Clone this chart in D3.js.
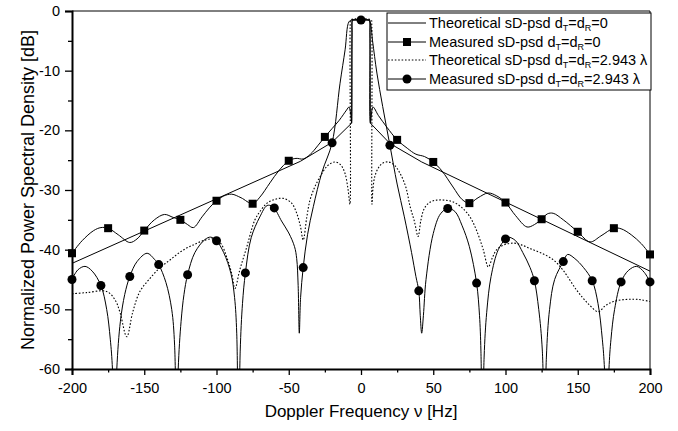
<!DOCTYPE html>
<html>
<head>
<meta charset="utf-8">
<script src="https://cdn.jsdelivr.net/npm/d3@7"></script>
<style>
  body { margin: 0; background: #fff; }
  svg { font-family: Arial, "Liberation Sans", sans-serif; }
</style>
</head>
<body>
<div id="canvas"></div>
<script>
// DATA (frequency Hz, level dB)
const theoryD0 = [
  [-200, -42.3], [-42, -25.2], [-20, -22], [-6.5, -18.8], [-6.2, -1.5],
  [6.2, -1.5], [6.5, -18.8], [20, -22.2], [42, -25.3], [200, -43.6]
];

const measuredD0 = [
  [-200, -40.6], [-193, -38.5], [-185, -36.8], [-180, -36.3], [-175, -36.4], [-168, -37.5],
  [-160, -38.8], [-155, -38.2], [-150, -36.8], [-143, -35], [-136, -34.1], [-130, -34.6],
  [-125, -35.0], [-120, -35.8], [-116, -36.3], [-110, -34.5], [-105, -33], [-100, -31.8],
  [-95, -31], [-89.5, -30.7], [-83, -31.3], [-75, -32.3], [-70, -31.2], [-63, -28.8],
  [-57, -26.8], [-50, -25.1], [-45, -24.7], [-40, -24.8], [-35, -24], [-30, -22.6],
  [-25, -21.1], [-20, -19.7], [-15, -18.3], [-10, -16.6], [-8.3, -16.1], [-7, -17.5],
  [-6.5, -18.8], [-6.2, -4], [-5.8, -1.6], [-4, -1.5], [4, -1.5], [5.8, -1.6], [6.2, -4],
  [6.5, -18.8], [8.3, -16.1], [12, -17.5], [18, -19.5], [25, -21.6], [32, -23], [38, -24],
  [44, -24.4], [50, -25.3], [56, -26.8], [63.7, -29.5], [70, -31.6], [75, -32.2], [81, -31.3],
  [88, -30.5], [94, -31], [100, -32.1], [107, -34.3], [114.9, -36.2], [120, -35.8],
  [125, -34.9], [129, -34], [133, -33.9], [140, -35], [150, -37.0], [158.5, -38.7],
  [166, -37.7], [175, -36.4], [180, -36.5], [187, -37.5], [194, -39], [200, -40.8]
];
const measuredD0Marks = [-200, -175, -150, -125, -100, -75, -50, -25, 25, 50, 75, 100, 125, 150, 175, 200];

const theoryD2943 = [
  [-200, -47.4], [-190, -47.2], [-176, -47.0], [-170, -48.5], [-166.8, -50.5], [-162.1, -54.6],
  [-158, -50.5], [-153, -47.0], [-146, -44.8], [-139, -43], [-132, -41.7], [-124, -40.2],
  [-116, -39.2], [-108, -38.4], [-102, -38.2], [-97, -39], [-93, -41.2], [-89.5, -44],
  [-87.2, -46.5], [-84, -43.5], [-79, -39.5], [-73.4, -35.0], [-69, -33.3], [-65, -32.2],
  [-60, -31.6], [-53.8, -31.4], [-48, -32.2], [-44.5, -33.9], [-42, -36], [-40, -38.4],
  [-37.5, -34.5], [-35.3, -31.7], [-32, -29.5], [-28.4, -27.8], [-23, -25.9], [-18, -25.3],
  [-14, -25.8], [-11.1, -27.2], [-9.2, -29.5], [-8.1, -31.7], [-7.6, -32.4], [-7.4, -2],
  [-7.1, -1.5], [7.1, -1.5], [7.4, -2], [7.6, -32.4], [8.2, -30], [9.5, -27.8], [12, -26.3],
  [15, -25.5], [18.9, -25.3], [23, -25.8], [27, -27.2], [31, -29.5], [34, -32.8], [37, -35.3],
  [39.5, -37.8], [41.5, -35], [44, -33], [48, -32], [52.4, -31.7], [58, -31.7], [63.9, -32],
  [70, -33], [75.4, -34.5], [80, -36.8], [84.6, -40], [88.1, -42.9], [91, -41.3], [93.9, -40],
  [99, -39.2], [105.4, -38.9], [111, -39.2], [116.9, -39.8], [125, -40.6], [133.1, -41.7],
  [140, -43.5], [149.3, -46.8], [157, -49], [164.2, -50.4], [169, -49.4], [174.6, -48.7],
  [181, -48.4], [188.4, -48.3], [194, -48.4], [200, -48.7]
];

const measuredD2943 = [
  [-200, -45.0], [-196, -43.4], [-191, -42.8], [-186, -43.6], [-180, -46.0], [-176, -50],
  [-173.5, -55], [-172, -60], [-170.5, -75], [-169, -60], [-166.5, -52], [-163.5, -47.5],
  [-160, -44.5], [-155, -42], [-148, -40.6], [-143, -41.6], [-140, -42.5], [-135, -45.5],
  [-131, -50], [-129, -56], [-127.6, -75], [-126.5, -60], [-124.5, -52], [-122.5, -47.5],
  [-120, -44.2], [-115, -40.5], [-108, -38.3], [-104, -37.9], [-100, -38.5], [-95, -40.5],
  [-90, -44], [-87.5, -48], [-86, -54], [-84.8, -75], [-83.6, -57], [-82, -49], [-80, -43.9],
  [-76, -38], [-70, -34.5], [-65, -32.6], [-61.5, -32.7], [-60, -33.0], [-55, -35.2],
  [-50, -37.2], [-46, -39.5], [-44.5, -41.5], [-43.5, -46], [-42.7, -54], [-41.8, -48],
  [-40, -43.0], [-37, -37.5], [-33, -32.8], [-27, -27], [-20, -22.1], [-14.5, -12.1],
  [-11, -6.5], [-8.3, -1.8], [-6, -1.5], [0, -1.5], [5, -1.5], [6.2, -1.8], [8, -5],
  [11, -10.4], [15, -16], [20, -22.5], [25, -29], [30, -34.5], [35, -40.5], [38, -44.5],
  [40, -46.9], [41, -51], [42, -54], [43.2, -51], [45, -45], [50, -37.3], [55, -34],
  [60, -33.1], [65, -33.6], [70, -36], [75, -39.5], [80, -45.6], [82, -51], [83, -57],
  [84, -75], [85.2, -58], [87, -50.5], [90, -44.5], [95, -40], [100, -38.2], [102, -37.9],
  [107, -38.5], [112, -40.5], [117, -43], [120, -45.2], [123, -50], [125.5, -57], [127, -75],
  [128.3, -58], [130.5, -50], [134, -45], [140, -42.0], [143, -40.8], [148, -41.5], [154, -43],
  [160, -45.2], [164, -49], [167, -55], [168.5, -60], [170, -75], [171.6, -60], [173, -55],
  [175.5, -50], [180, -45.4], [185, -43.5], [190.8, -42.8], [196, -43.8], [200, -45.4]
];
const measuredD2943Marks = [-200, -180, -160, -140, -120, -100, -80, -60, -40, -20, 0,
  20, 40, 60, 80, 100, 120, 140, 160, 180, 200];

const xTicks = [-200, -150, -100, -50, 0, 50, 100, 150, 200];
const yTicks = [0, -10, -20, -30, -40, -50, -60];

const legendNames = ["Theoretical sD-psd d", "Measured sD-psd d", "Theoretical sD-psd d", "Measured sD-psd d"];
const legendTails = ["=0", "=0", "=2.943 \u03bb", "=2.943 \u03bb"];

// DIMENSIONS
const width = 678;
const height = 431;
const margin = { top: 11, right: 28, bottom: 62, left: 72 };
const plot_width = width - margin.left - margin.right;
const plot_height = height - margin.top - margin.bottom;

const svg = d3.select("#canvas").append("svg")
  .attr("width", width)
  .attr("height", height);

const plot = svg.append("g")
  .attr("transform", `translate(${margin.left},${margin.top})`);

// SCALES
const x = d3.scaleLinear().domain([-200, 200]).range([0, plot_width]);
const y = d3.scaleLinear().domain([-60, 0]).range([plot_height, 0]);

plot.append("clipPath").attr("id", "clip")
  .append("rect").attr("width", plot_width).attr("height", plot_height);

const smooth = d3.line().x(d => x(d[0])).y(d => y(d[1])).curve(d3.curveCatmullRom.alpha(0.5));
const straight = d3.line().x(d => x(d[0])).y(d => y(d[1]));

const curves = plot.append("g").attr("clip-path", "url(#clip)");

curves.append("path").attr("d", smooth(theoryD2943))
  .attr("fill", "none").attr("stroke", "#000").attr("stroke-width", 1.1)
  .attr("stroke-dasharray", "1.6,1.8");
curves.append("path").attr("d", straight(theoryD0))
  .attr("fill", "none").attr("stroke", "#000").attr("stroke-width", 1);
curves.append("path").attr("d", smooth(measuredD0))
  .attr("fill", "none").attr("stroke", "#000").attr("stroke-width", 1);
curves.append("path").attr("d", smooth(measuredD2943))
  .attr("fill", "none").attr("stroke", "#000").attr("stroke-width", 1);

// MARKERS
const sq = 8;
plot.append("g").selectAll("rect")
  .data(measuredD0.filter(d => measuredD0Marks.includes(d[0])))
  .join("rect")
  .attr("x", d => x(d[0]) - sq / 2)
  .attr("y", d => y(d[1]) - sq / 2)
  .attr("width", sq).attr("height", sq)
  .attr("fill", "#000");

plot.append("g").selectAll("circle")
  .data(measuredD2943.filter(d => measuredD2943Marks.includes(d[0])))
  .join("circle")
  .attr("cx", d => x(d[0]))
  .attr("cy", d => y(d[1]))
  .attr("r", 4.5)
  .attr("fill", "#000");

// FRAME
plot.append("line").attr("x1", 0).attr("x2", plot_width).attr("y1", 0).attr("y2", 0)
  .attr("stroke", "#000").attr("stroke-width", 1);
plot.append("line").attr("x1", plot_width).attr("x2", plot_width).attr("y1", 0).attr("y2", plot_height)
  .attr("stroke", "#000").attr("stroke-width", 1);

// AXES
const xAx = plot.append("g")
  .attr("transform", `translate(0,${plot_height})`)
  .call(d3.axisBottom(x).tickValues(d3.range(-200, 201, 25)).tickFormat(d => xTicks.includes(d) ? d : "")
    .tickSizeOuter(0).tickSize(6).tickPadding(8));
xAx.selectAll(".tick line").attr("y2", d => xTicks.includes(d) ? 6 : 3.5).attr("stroke-width", 1.3);
xAx.select(".domain").attr("stroke-width", 2);

const yAx = plot.append("g")
  .call(d3.axisLeft(y).tickValues(d3.range(-60, 1, 5)).tickFormat(d => yTicks.includes(d) ? d : "")
    .tickSizeOuter(0).tickSize(7).tickPadding(5));
yAx.selectAll(".tick line").attr("x2", d => yTicks.includes(d) ? -7 : -4).attr("stroke-width", 1.3);
yAx.select(".domain").attr("stroke-width", 2);

svg.selectAll(".tick text").attr("font-size", 14.5).attr("font-family", "Arial, 'Liberation Sans', sans-serif").attr("fill", "#000");
svg.selectAll(".tick text").text(function (d) { return d3.select(this).text().replace("\u2212", "-"); });

// LABELS
svg.append("text")
  .attr("x", margin.left + plot_width / 2)
  .attr("y", 417)
  .attr("text-anchor", "middle")
  .attr("font-size", 17)
  .text("Doppler Frequency \u03bd [Hz]");

svg.append("text")
  .attr("transform", `translate(34,${margin.top + plot_height / 2}) rotate(-90)`)
  .attr("text-anchor", "middle")
  .attr("font-size", 18)
  .text("Normalized Power Spectral Density [dB]");

// LEGEND
const legend = svg.append("g");
legend.append("rect")
  .attr("x", 387).attr("y", 13).attr("width", 264).attr("height", 77)
  .attr("fill", "#fff").attr("stroke", "#000").attr("stroke-width", 1);

const rowY = [23, 42, 60, 79];
const dashes = [null, null, "1.6,1.8", null];
rowY.forEach((ry, i) => {
  legend.append("line").attr("x1", 388).attr("x2", 426).attr("y1", ry).attr("y2", ry)
    .attr("stroke", "#000").attr("stroke-width", 1).attr("stroke-dasharray", dashes[i]);
  if (i === 1) legend.append("rect").attr("x", 403).attr("y", ry - 4).attr("width", 8).attr("height", 8);
  if (i === 3) legend.append("circle").attr("cx", 407).attr("cy", ry).attr("r", 4.5);
  const t = legend.append("text").attr("x", 429).attr("y", ry + 5).attr("font-size", 14.5);
  t.append("tspan").text(legendNames[i]);
  t.append("tspan").attr("font-size", 9).attr("dy", 3).text("T");
  t.append("tspan").attr("dy", -3).text("=d");
  t.append("tspan").attr("font-size", 9).attr("dy", 3).text("R");
  t.append("tspan").attr("dy", -3).text(legendTails[i]);
});
</script>
</body>
</html>
